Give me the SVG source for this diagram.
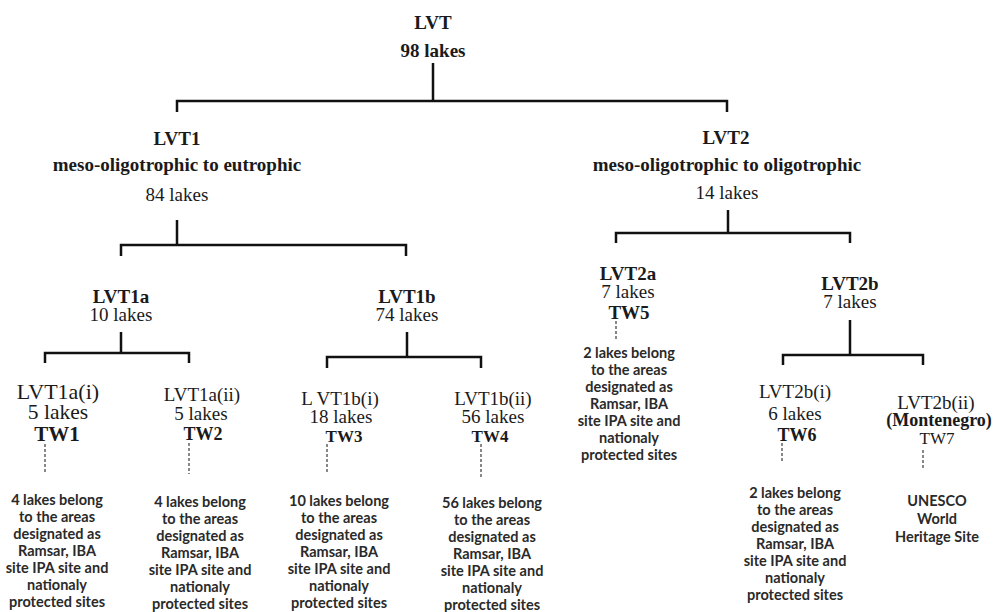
<svg xmlns="http://www.w3.org/2000/svg" width="994" height="612" viewBox="0 0 994 612">
<style>
.s{font-family:"Liberation Serif","Times New Roman",serif;fill:#1a1a1a;text-anchor:middle}
.b{font-weight:bold}
.d{font-family:Lato,"Liberation Sans",sans-serif;font-weight:700;font-size:14.5px;fill:#2a2a2a;text-anchor:middle}
.br{fill:none;stroke:#111;stroke-width:2.5}
.da{fill:none;stroke:#888;stroke-width:2;stroke-dasharray:3 2}
</style>
<rect width="994" height="612" fill="#fff"/>
<g id="connectors">
<path class="br" d="M433 63V101M177 112V101H727V112"/>
<path class="br" d="M177 220V245M121 256V245H406V256"/>
<path class="br" d="M728 210V233M616 243V233H850V243"/>
<path class="br" d="M121 332V353M45 363V353H189V363"/>
<path class="br" d="M407 332V357M327 368V357H481V368"/>
<path class="br" d="M850 320V355M783 365V355H923V365"/>
<path class="da" d="M45 444V474M189 443V474M327 444V473M481 444V478M616 321V340M782 443V462M923 450V468"/>
</g>
<g id="LVT" class="s b" font-size="19">
<text x="433" y="29">LVT</text>
<text x="433" y="57">98 lakes</text>
</g>
<g id="LVT1" class="s" font-size="19">
<text class="b" x="177" y="145">LVT1</text>
<text class="b" x="177" y="171">meso-oligotrophic to eutrophic</text>
<text x="177" y="201">84 lakes</text>
</g>
<g id="LVT2" class="s" font-size="19">
<text class="b" x="726" y="144">LVT2</text>
<text class="b" x="727" y="171">meso-oligotrophic to oligotrophic</text>
<text x="727" y="199">14 lakes</text>
</g>
<g id="LVT1a" class="s" font-size="19">
<text class="b" x="121" y="303">LVT1a</text>
<text x="121" y="321">10 lakes</text>
</g>
<g id="LVT1b" class="s" font-size="19">
<text class="b" x="407" y="303">LVT1b</text>
<text x="407" y="321">74 lakes</text>
</g>
<g id="LVT2a" class="s" font-size="19">
<text class="b" x="628" y="280">LVT2a</text>
<text x="628" y="298">7 lakes</text>
<text class="b" x="629" y="319">TW5</text>
</g>
<g id="LVT2b" class="s" font-size="19">
<text class="b" x="850" y="290">LVT2b</text>
<text x="850" y="308">7 lakes</text>
</g>
<g id="LVT1a_i" class="s">
<text x="58" y="399" font-size="22">LVT1a(i)</text>
<text x="58" y="419" font-size="21.5">5 lakes</text>
<text class="b" x="57" y="441" font-size="21">TW1</text>
</g>
<g id="LVT1a_ii" class="s" font-size="19">
<text x="202" y="401">LVT1a(ii)</text>
<text x="201" y="420">5 lakes</text>
<text class="b" x="203" y="440" font-size="18">TW2</text>
</g>
<g id="LVT1b_i" class="s" font-size="19">
<text x="340" y="405">L VT1b(i)</text>
<text x="341" y="423">18 lakes</text>
<text class="b" x="344" y="442" font-size="17">TW3</text>
</g>
<g id="LVT1b_ii" class="s" font-size="19">
<text x="493" y="405">LVT1b(ii)</text>
<text x="493" y="423">56 lakes</text>
<text class="b" x="490" y="442" font-size="17">TW4</text>
</g>
<g id="LVT2b_i" class="s" font-size="19">
<text x="795" y="398">LVT2b(i)</text>
<text x="795" y="420">6 lakes</text>
<text class="b" x="797" y="441" font-size="18">TW6</text>
</g>
<g id="LVT2b_ii" class="s" font-size="19">
<text x="936" y="409">LVT2b(ii)</text>
<text class="b" x="939" y="426" font-size="18">(Montenegro)</text>
<text x="937" y="444" font-size="17">TW7</text>
</g>
<g id="note1" class="d">
<text x="57" y="505">4 lakes belong</text>
<text x="57" y="522">to the areas</text>
<text x="57" y="539">designated as</text>
<text x="57" y="556">Ramsar, IBA</text>
<text x="57" y="573">site IPA site and</text>
<text x="57" y="590">nationaly</text>
<text x="57" y="607">protected sites</text>
</g>
<g id="note2" class="d">
<text x="200" y="507">4 lakes belong</text>
<text x="200" y="524">to the areas</text>
<text x="200" y="541">designated as</text>
<text x="200" y="558">Ramsar, IBA</text>
<text x="200" y="575">site IPA site and</text>
<text x="200" y="592">nationaly</text>
<text x="200" y="609">protected sites</text>
</g>
<g id="note3" class="d">
<text x="339" y="506">10 lakes belong</text>
<text x="339" y="523">to the areas</text>
<text x="339" y="540">designated as</text>
<text x="339" y="557">Ramsar, IBA</text>
<text x="339" y="574">site IPA site and</text>
<text x="339" y="591">nationaly</text>
<text x="339" y="608">protected sites</text>
</g>
<g id="note4" class="d">
<text x="492" y="508">56 lakes belong</text>
<text x="492" y="525">to the areas</text>
<text x="492" y="542">designated as</text>
<text x="492" y="559">Ramsar, IBA</text>
<text x="492" y="576">site IPA site and</text>
<text x="492" y="593">nationaly</text>
<text x="492" y="610">protected sites</text>
</g>
<g id="note5" class="d">
<text x="629" y="358">2 lakes belong</text>
<text x="629" y="375">to the areas</text>
<text x="629" y="392">designated as</text>
<text x="629" y="409">Ramsar, IBA</text>
<text x="629" y="426">site IPA site and</text>
<text x="629" y="443">nationaly</text>
<text x="629" y="460">protected sites</text>
</g>
<g id="note6" class="d">
<text x="795" y="498">2 lakes belong</text>
<text x="795" y="515">to the areas</text>
<text x="795" y="532">designated as</text>
<text x="795" y="549">Ramsar, IBA</text>
<text x="795" y="566">site IPA site and</text>
<text x="795" y="583">nationaly</text>
<text x="795" y="600">protected sites</text>
</g>
<g id="note7" class="d">
<text x="937" y="506">UNESCO</text>
<text x="937" y="524">World</text>
<text x="937" y="542">Heritage Site</text>
</g>
</svg>
